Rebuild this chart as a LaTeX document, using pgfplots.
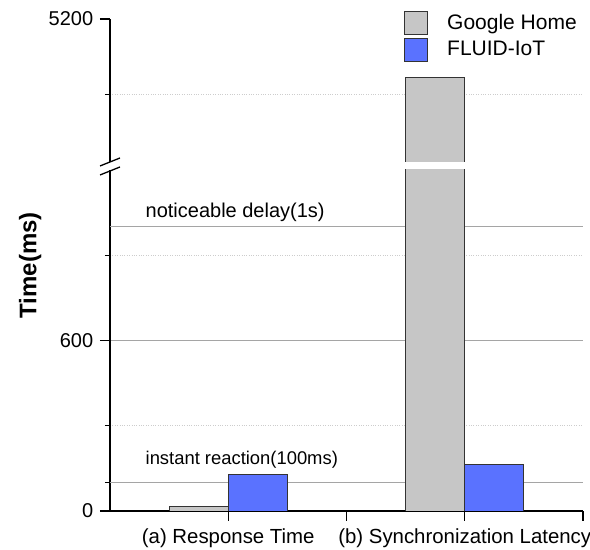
\documentclass[border=0pt]{standalone}
\usepackage{pgfplots}
\pgfplotsset{compat=1.18}
\usepackage{fontspec}
\setmainfont{Liberation Sans}
\definecolor{gh}{RGB}{198,198,198}
\definecolor{fl}{RGB}{90,114,255}
\definecolor{gridc}{RGB}{165,165,165}
\definecolor{dotc}{RGB}{205,205,205}
\begin{document}%
\fontsize{20bp}{24bp}\selectfont%
\begin{tikzpicture}
\useasboundingbox (0bp,0bp) rectangle (590bp,550bp);
\pgfplotsset{
 common/.style={
  scale only axis, width=473bp, xmin=0, xmax=4,
  axis line style={line width=1.3bp, black},
  tick style={line width=1.3bp, black},
  tick align=outside, major tick length=10bp, minor tick length=5bp,
  /pgf/number format/assume math mode=true,
  /pgf/number format/1000 sep={},
  scaled y ticks=false,
  yticklabel style={font=\fontsize{20bp}{24bp}\selectfont},
  minor grid style={dotc, dotted, line width=0.8bp},
  major grid style={gridc, line width=0.8bp},
 },
 barstyle/.style={ybar, bar width=0.5, bar shift=0pt, draw=black!80, line width=1bp},
}
\begin{axis}[common, at={(110bp,39bp)}, anchor=south west, height=341bp,
 ymin=0, ymax=1200, axis x line*=bottom, axis y line*=left,
 xtick={1,2,3,4}, xticklabels={(a) Response Time,,(b) Synchronization Latency,},
 xticklabel style={yshift=-1bp, font=\fontsize{20.4bp}{25bp}\selectfont},
 ytick={0,600}, minor ytick={300,900},
 extra y ticks={100}, extra y tick labels={},
 extra y tick style={grid=major, major tick length=5bp},
 ymajorgrids, yminorgrids,
 ylabel={Time(ms)},
 every axis y label/.style={at={(axis description cs:-0.169,0.721)}, rotate=90, anchor=center, font=\fontsize{24bp}{28bp}\selectfont\bfseries},
]
\addplot[forget plot, gridc, line width=0.8bp] coordinates {(0,1000) (4,1000)};
\addplot[barstyle, fill=gh] coordinates {(0.75,15) (2.75,4965)};
\addplot[barstyle, fill=fl] coordinates {(1.25,128) (3.25,165)};
\node[anchor=base west, inner sep=0pt, font=\fontsize{18.4bp}{22bp}\selectfont] at (axis cs:0.3,162) {instant reaction(100ms)};
\node[anchor=base west, inner sep=0pt] at (axis cs:0.3,1034) {noticeable delay(1s)};
\end{axis}
\begin{axis}[common, at={(110bp,388bp)}, anchor=south west, height=143bp,
 ymin=4630, ymax=5200, axis x line=none, axis y line*=left,
 ytick={5200}, minor ytick={4900}, yminorgrids,
 legend cell align=left,
 legend style={at={(axis description cs:0.6216,1.056)}, anchor=north west, draw=none, fill=none, inner sep=0pt, row sep=3bp, column sep=19bp, nodes={inner sep=0pt}, font=\fontsize{21bp}{25bp}\selectfont},
]
\addplot[fill=gh, draw=none, forget plot] coordinates {(2.5,4000) (2.5,4965) (3.0,4965) (3.0,4000)} \closedcycle;
\addplot[black!80, line width=1bp, forget plot] coordinates {(2.5,4000) (2.5,4965) (3.0,4965) (3.0,4000)};
\addlegendimage{legend image code/.code={\draw[fill=gh,draw=black!80,line width=1bp] (0bp,-11.5bp) rectangle (23bp,11.5bp);}}
\addlegendentry{Google Home}
\addlegendimage{legend image code/.code={\draw[fill=fl,draw=black!80,line width=1bp] (0bp,-11.5bp) rectangle (23bp,11.5bp);}}
\addlegendentry{FLUID-IoT}
\end{axis}
\draw[line width=1.3bp] (100bp,375bp) -- (120bp,383bp);
\draw[line width=1.3bp] (100bp,384bp) -- (120bp,392bp);
\end{tikzpicture}%
\end{document}
